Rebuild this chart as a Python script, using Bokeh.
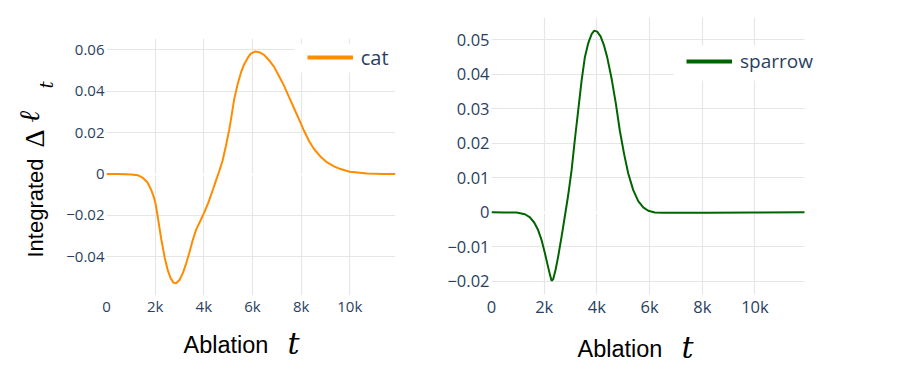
import math
from bokeh.plotting import figure
from bokeh.layouts import row, column
from bokeh.models import Range1d, FixedTicker, Legend, LegendItem, BoxAnnotation
from bokeh.core.properties import value
from bokeh.embed import file_html
from bokeh.resources import INLINE

# ---------------- data ----------------
cat_x = [0, 500, 1020, 1300, 1500, 1680, 1840, 1950, 2020, 2110, 2250, 2390, 2520, 2630,
         2760, 2860, 3000, 3140, 3270, 3410, 3550, 3680, 3850, 4020, 4190, 4370, 4500,
         4640, 4770, 4910, 5050, 5140, 5250, 5390, 5530, 5660, 5800, 5930, 6100, 6280,
         6480, 6680, 6890, 7090, 7300, 7500, 7710, 7910, 8120, 8320, 8530, 8800, 9070,
         9350, 9620, 10000, 10710, 11390, 11880]
cat_y = [0, 0, -0.0002, -0.0006, -0.0019, -0.0040, -0.0077, -0.0113, -0.0145, -0.0209,
         -0.0314, -0.0402, -0.0466, -0.0502, -0.0526, -0.0528, -0.0512, -0.0479, -0.0434,
         -0.0378, -0.0318, -0.0270, -0.0228, -0.0185, -0.0137, -0.0077, -0.0032, 0.0016,
         0.0064, 0.0137, 0.0217, 0.0281, 0.0362, 0.0434, 0.0491, 0.0531, 0.0560, 0.0582,
         0.0592, 0.0589, 0.0576, 0.0550, 0.0518, 0.0474, 0.0426, 0.0373, 0.0318, 0.0265,
         0.0209, 0.0161, 0.0121, 0.0084, 0.0056, 0.0037, 0.0024, 0.0011, 0.0003, 0, 0]

sparrow_x = [0, 500, 950, 1270, 1460, 1620, 1770, 1900, 2030, 2130, 2220, 2280, 2340,
             2430, 2530, 2660, 2780, 2910, 3040, 3160, 3290, 3420, 3540, 3670, 3800,
             3900, 4010, 4140, 4270, 4390, 4560, 4720, 4870, 5030, 5190, 5380, 5570,
             5760, 5950, 6200, 6520, 8160, 10000, 11880]
sparrow_y = [0, -0.0001, -0.0001, -0.0006, -0.0015, -0.0030, -0.0052, -0.0081, -0.0120,
             -0.0153, -0.0182, -0.0199, -0.0195, -0.0168, -0.0129, -0.0071, -0.0014,
             0.0049, 0.0122, 0.0208, 0.0295, 0.0382, 0.0448, 0.0490, 0.0517, 0.0527,
             0.0524, 0.0510, 0.0484, 0.0450, 0.0387, 0.0315, 0.0237, 0.0170, 0.0112,
             0.0064, 0.0032, 0.0014, 0.0004, -0.0001, -0.0002, -0.0002, -0.0001, 0]

x_ticks = [0, 2000, 4000, 6000, 8000, 10000]
x_tick_labels = ["0", "2k", "4k", "6k", "8k", "10k"]
cat_y_ticks = [-0.04, -0.02, 0, 0.02, 0.04, 0.06]
cat_y_tick_labels = ["\u22120.04", "\u22120.02", "0", "0.02", "0.04", "0.06"]
sparrow_y_ticks = [-0.02, -0.01, 0, 0.01, 0.02, 0.03, 0.04, 0.05]
sparrow_y_tick_labels = ["\u22120.02", "\u22120.01", "0", "0.01", "0.02", "0.03",
                         "0.04", "0.05"]
series_names = ["cat", "sparrow"]

X_END = 11880
CAT_COLOR = "#ff8c00"
SPARROW_COLOR = "#006400"
GRID = "#e6e6e6"
TICK_COLOR = "#2a3f5f"
TICK_FONT = "Open Sans"
TITLE_FONT = "Liberation Sans"
MATH_FONT = "Liberation Serif"
ITALIC_FONT = "DejaVu Serif"

TOTAL_H = 364
PLOT_H = 319
EXTRA_PX = 30  # room inside the right frame so the legend text is not clipped


def make_fig(frame_w, frame_h, mb_left, mb_right, mb_top, mb_bottom, xr, yr,
             yticks, ylabels, tick_size):
    p = figure(frame_width=frame_w, frame_height=frame_h, x_range=xr, y_range=yr,
               output_backend="svg", toolbar_location=None,
               min_border_left=mb_left, min_border_right=mb_right,
               min_border_top=mb_top, min_border_bottom=mb_bottom)
    p.outline_line_color = None
    for ax in (p.xaxis[0], p.yaxis[0]):
        ax.axis_line_color = None
        ax.major_tick_line_color = None
        ax.minor_tick_line_color = None
        ax.major_tick_out = 0
        ax.major_tick_in = 0
        ax.major_label_text_color = TICK_COLOR
        ax.major_label_text_font = TICK_FONT
        ax.major_label_text_font_size = tick_size
    p.xaxis.ticker = FixedTicker(ticks=x_ticks)
    p.xaxis.major_label_overrides = dict(zip(x_ticks, x_tick_labels))
    p.xaxis.major_label_standoff = 0
    p.yaxis.ticker = FixedTicker(ticks=yticks)
    p.yaxis.major_label_overrides = dict(zip(yticks, ylabels))
    p.yaxis.major_label_standoff = 2
    p.xgrid.ticker = FixedTicker(ticks=[t for t in x_ticks if t != 0])
    p.ygrid.ticker = FixedTicker(ticks=[t for t in yticks if t != 0])
    for g in (p.xgrid[0], p.ygrid[0]):
        g.grid_line_color = GRID
        g.grid_line_width = 1.2
    g = p.ygrid[0]
    if "cross_bounds" in g.properties():
        g.cross_bounds = (0, X_END)
    # white zero line beneath the data line
    p.hspan(y=[0], line_color="white", line_width=2)
    return p


def text_fig(frame_w, frame_h, mb_left, mb_right, xr, yr):
    t = figure(frame_width=frame_w, frame_height=frame_h, x_range=xr, y_range=yr,
               output_backend="svg", toolbar_location=None,
               x_axis_type=None, y_axis_type=None,
               min_border_left=mb_left, min_border_right=mb_right, min_border_top=0,
               min_border_bottom=0)
    t.outline_line_color = None
    t.xgrid.visible = False
    t.ygrid.visible = False
    return t


def put(t, x, y, s, font, size, style="normal", angle=0.0):
    t.text(x=[x], y=[y], text=[s], text_font=value(font), text_font_size=value(size),
           text_font_style=value(style), text_color="black", angle=angle,
           text_align="left", text_baseline="middle")


def make_legend(p, renderer, label, loc, size):
    leg = Legend(items=[LegendItem(label=label, renderers=[renderer])],
                 location=loc, padding=4, margin=0, glyph_width=46, glyph_height=20,
                 label_standoff=8, label_text_font=TICK_FONT,
                 label_text_font_size=size, label_text_color=TICK_COLOR,
                 border_line_color=None, background_fill_color="white",
                 background_fill_alpha=1)
    p.add_layout(leg)


# ---------------- y title (page coordinates, y measured from the bottom) ----------------
yt = text_fig(60, TOTAL_H, 0, 0, Range1d(0, 60), Range1d(0, TOTAL_H))
put(yt, 35, TOTAL_H - 257, "Integrated", TITLE_FONT, "22px", angle=math.pi / 2)
put(yt, 34, TOTAL_H - 147, "\u0394", MATH_FONT, "28px", angle=math.pi / 2)
put(yt, 29, TOTAL_H - 122, "\u2113", ITALIC_FONT, "28px", "italic", angle=math.pi / 2)
put(yt, 46, TOTAL_H - 88, "t", ITALIC_FONT, "18px", "italic", angle=math.pi / 2)

# ---------------- left: cat ----------------
p1 = make_fig(289, 257, 46, 45, 38, PLOT_H - 38 - 257, Range1d(0, X_END),
              Range1d(-0.0587, 0.0655), cat_y_ticks, cat_y_tick_labels, "15px")
p1.line(cat_x, cat_y, line_color=CAT_COLOR, line_width=2)
key1 = p1.line(cat_x[:1], cat_y[:1], line_color=CAT_COLOR, line_width=4)
p1.add_layout(BoxAnnotation(left=188, right=289, bottom=223, top=252,
                            left_units="screen", right_units="screen",
                            bottom_units="screen", top_units="screen",
                            fill_color="white", fill_alpha=1, line_color=None))
make_legend(p1, key1, series_names[0], (200.7, 224.5), "20px")

# x title under the cat plot: frame aligned with the plot frame, page coordinates
xt1 = text_fig(289, TOTAL_H - PLOT_H, 46, 45, Range1d(106, 395),
               Range1d(TOTAL_H, PLOT_H))
put(xt1, 183, 344.8, "Ablation", TITLE_FONT, "23.5px")
put(xt1, 287, 343.0, "t", ITALIC_FONT, "30px", "italic")

# ---------------- right: sparrow ----------------
x2_end = X_END + EXTRA_PX * X_END / 313.0
p2 = make_fig(313 + EXTRA_PX, 277, 51, 85 - EXTRA_PX, 17, PLOT_H - 17 - 277,
              Range1d(0, x2_end), Range1d(-0.0239, 0.0565), sparrow_y_ticks,
              sparrow_y_tick_labels, "16.5px")
p2.line(sparrow_x, sparrow_y, line_color=SPARROW_COLOR, line_width=2)
key2 = p2.line(sparrow_x[:1], sparrow_y[:1], line_color=SPARROW_COLOR, line_width=4)
p2.add_layout(BoxAnnotation(left=182, right=343, bottom=214, top=249,
                            left_units="screen", right_units="screen",
                            bottom_units="screen", top_units="screen",
                            fill_color="white", fill_alpha=1, line_color=None))
make_legend(p2, key2, series_names[1], (195, 220.3), "19px")

xt2 = text_fig(313 + EXTRA_PX, TOTAL_H - PLOT_H, 51, 85 - EXTRA_PX,
               Range1d(491, 491 + 313 + EXTRA_PX), Range1d(TOTAL_H, PLOT_H))
put(xt2, 577, 347.8, "Ablation", TITLE_FONT, "23.5px")
put(xt2, 681, 346.0, "t", ITALIC_FONT, "30px", "italic")

layout = row(yt, column(p1, xt1), column(p2, xt2))
open("out.html", "w").write(file_html(layout, INLINE))
